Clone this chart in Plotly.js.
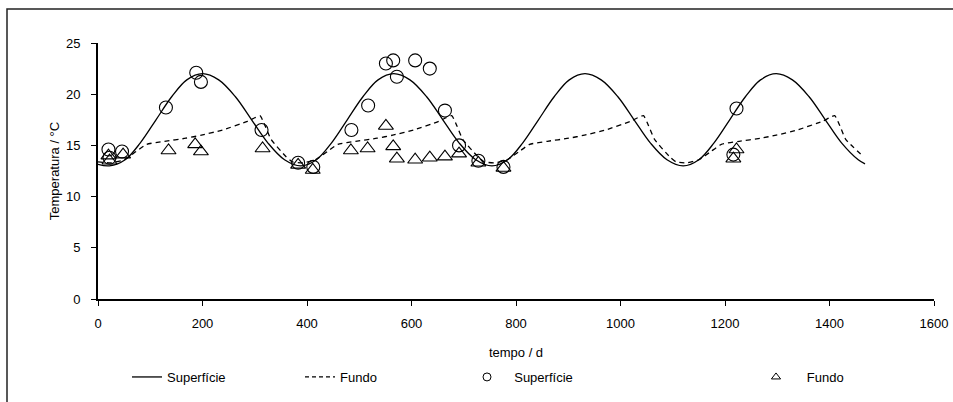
<!DOCTYPE html>
<html>
<head>
<meta charset="utf-8">
<script src="https://cdn.plot.ly/plotly-3.0.1.min.js"></script>
<style>html,body{margin:0;padding:0;background:#fff;}#chart{width:953px;height:402px;}</style>
</head>
<body>
<div id="chart"></div>
<script>
// Modelled surface temperature (solid line)
const supModelX = [0, 22, 52, 81, 111, 141, 170, 200, 231, 263, 294, 325, 357, 388, 418, 447, 477, 507, 536, 566, 597, 629, 660, 691, 723, 754, 784, 813, 843, 873, 902, 932, 963, 995, 1026, 1057, 1089, 1120, 1150, 1179, 1209, 1239, 1268, 1298, 1329, 1361, 1392, 1423, 1455, 1468];
const supModelY = [13.15, 13.0, 13.6, 15.25, 17.5, 19.75, 21.4, 22.0, 21.4, 19.75, 17.5, 15.25, 13.6, 13.0, 13.6, 15.25, 17.5, 19.75, 21.4, 22.0, 21.4, 19.75, 17.5, 15.25, 13.6, 13.0, 13.6, 15.25, 17.5, 19.75, 21.4, 22.0, 21.4, 19.75, 17.5, 15.25, 13.6, 13.0, 13.6, 15.25, 17.5, 19.75, 21.4, 22.0, 21.4, 19.75, 17.5, 15.25, 13.6, 13.2];

// Modelled bottom temperature (dashed line)
const fundoModelX = [0, 25, 50, 73, 93, 127, 168, 198, 238, 286, 300, 310, 320, 331, 360, 372, 393, 416, 439, 459, 493, 534, 564, 604, 652, 666, 677, 687, 698, 727, 739, 760, 783, 806, 826, 860, 901, 931, 971, 1019, 1033, 1044, 1054, 1065, 1094, 1106, 1127, 1150, 1173, 1193, 1227, 1268, 1298, 1338, 1386, 1400, 1410, 1420, 1431, 1465];
const fundoModelY = [13.4, 13.3, 13.6, 14.4, 15.1, 15.4, 15.7, 16.0, 16.5, 17.35, 17.7, 17.9, 16.9, 15.6, 13.9, 13.4, 13.3, 13.6, 14.4, 15.1, 15.4, 15.7, 16.0, 16.5, 17.35, 17.7, 17.9, 16.9, 15.6, 13.9, 13.4, 13.3, 13.6, 14.4, 15.1, 15.4, 15.7, 16.0, 16.5, 17.35, 17.7, 17.9, 16.9, 15.6, 13.9, 13.4, 13.3, 13.6, 14.4, 15.1, 15.4, 15.7, 16.0, 16.5, 17.35, 17.7, 17.9, 16.9, 15.6, 13.9];

// Observed surface temperature (circles)
const supObsX = [20, 22, 46, 130, 188, 197, 313, 383, 412, 485, 517, 551, 565, 572, 607, 635, 664, 691, 728, 776, 1216, 1222];
const supObsY = [14.6, 13.8, 14.4, 18.7, 22.1, 21.2, 16.5, 13.3, 12.9, 16.5, 18.9, 23.0, 23.3, 21.7, 23.3, 22.5, 18.4, 15.0, 13.5, 12.9, 14.1, 18.6];

// Observed bottom temperature (triangles)
const fundoObsX = [20, 22, 48, 135, 186, 197, 315, 383, 411, 484, 516, 551, 565, 572, 607, 635, 664, 691, 728, 776, 1216, 1222];
const fundoObsY = [14.0, 13.5, 14.1, 14.5, 15.1, 14.4, 14.7, 13.1, 12.6, 14.5, 14.7, 16.9, 14.9, 13.7, 13.6, 13.8, 13.9, 14.2, 13.3, 12.8, 13.7, 14.6];

const legendNames = ['Superfície', 'Fundo', 'Superfície', 'Fundo'];
const xTicks = [0, 200, 400, 600, 800, 1000, 1200, 1400, 1600];
const yTicks = [0, 5, 10, 15, 20, 25];

const FONT = 'Liberation Sans, Arial, sans-serif';
const nb = '\u00a0';

const traces = [
  {x: supModelX, y: supModelY, mode: 'lines', line: {color: '#000', width: 1.3, shape: 'spline', smoothing: 1}, showlegend: false, hoverinfo: 'skip'},
  {x: fundoModelX, y: fundoModelY, mode: 'lines', line: {color: '#000', width: 1.3, dash: '5px,4px', shape: 'spline', smoothing: 0.5}, showlegend: false, hoverinfo: 'skip'},
  {x: supObsX, y: supObsY, mode: 'markers', marker: {symbol: 'circle-open', size: 13, color: '#000', line: {width: 1.1}}, showlegend: false},
  {x: fundoObsX, y: fundoObsY, mode: 'markers', marker: {symbol: 'triangle-up-open', size: 13, color: '#000', line: {width: 1.1}}, showlegend: false},
  // legend entries
  {x: [null], y: [null], mode: 'lines', line: {color: '#000', width: 1.3}, name: legendNames[0], legend: 'legend'},
  {x: [null], y: [null], mode: 'lines', line: {color: '#000', width: 1.3, dash: '4px,3px'}, name: legendNames[1], legend: 'legend2'},
  {x: [null], y: [null], mode: 'markers', marker: {symbol: 'circle-open', size: 8, color: '#000', line: {width: 1}}, name: nb + nb + legendNames[2], legend: 'legend3'},
  {x: [null], y: [null], mode: 'markers', marker: {symbol: 'triangle-up-open', size: 8, color: '#000', line: {width: 1}}, name: nb + nb + nb + legendNames[3], legend: 'legend4'}
];

function leg(px) {
  return {xref: 'container', yref: 'container', x: px / 953, y: 1 - 377 / 402, xanchor: 'left', yanchor: 'middle',
          orientation: 'h', bgcolor: 'rgba(0,0,0,0)', borderwidth: 0, font: {family: FONT, size: 13, color: '#000'}, itemsizing: 'trace'};
}

const layout = {
  width: 953, height: 402,
  margin: {l: 98, r: 19, t: 43, b: 103, pad: 0},
  paper_bgcolor: '#fff', plot_bgcolor: '#fff',
  font: {family: FONT, size: 13, color: '#000'},
  xaxis: {range: [0, 1600], tickvals: xTicks, ticktext: xTicks.map(String), ticks: 'outside', ticklen: 5, tickwidth: 1, tickcolor: '#000',
          ticklabelstandoff: 6,
          showline: true, linewidth: 2, linecolor: '#000', showgrid: false, zeroline: false,
          tickfont: {family: FONT, size: 13}, title: {text: 'tempo / d', font: {family: FONT, size: 13}, standoff: 18}},
  yaxis: {range: [0, 25], tickvals: yTicks, ticktext: yTicks.map(String), ticks: 'outside', ticklen: 5, tickwidth: 1, tickcolor: '#000',
          ticklabelstandoff: 8,
          showline: true, linewidth: 2, linecolor: '#000', showgrid: false, zeroline: false,
          tickfont: {family: FONT, size: 13}, title: {text: 'Temperatura / °C', font: {family: FONT, size: 13}, standoff: 3}},
  legend: leg(127), legend2: leg(300), legend3: leg(467), legend4: leg(756),
  shapes: [{type: 'rect', xref: 'paper', yref: 'paper', x0: (7 - 98) / 836, x1: (965 - 98) / 836, y0: (299 - 415) / 256, y1: (299 - 9) / 256,
            line: {color: '#222', width: 1.5}, fillcolor: 'rgba(0,0,0,0)', layer: 'below'}]
};

Plotly.newPlot('chart', traces, layout, {displayModeBar: false, staticPlot: true});
</script>
</body>
</html>
